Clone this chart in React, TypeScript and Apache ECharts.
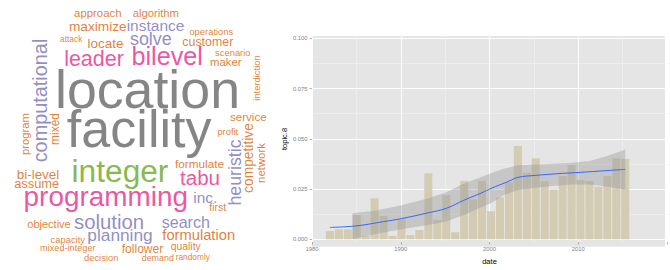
import React, { useEffect, useRef } from 'react';
import * as echarts from 'echarts';

// ---------- Histogram data (topic.8 by year) ----------
const years = [1982, 1983, 1984, 1985, 1986, 1987, 1988, 1989, 1990, 1991, 1992, 1993, 1994, 1995, 1996, 1997, 1998, 1999, 2000, 2001, 2002, 2003, 2004, 2005, 2006, 2007, 2008, 2009, 2010, 2011, 2012, 2013, 2014, 2015];
const topic8 = [0.0041, 0.0050, 0.0050, 0.0121, 0.0017, 0.0204, 0.0116, 0.0017, 0.0099, 0.0021, 0.0046, 0.0328, 0.0096, 0.0220, 0.0035, 0.0291, 0.0199, 0.0291, 0.0140, 0.0208, 0.0283, 0.0464, 0.0331, 0.0403, 0.0289, 0.0248, 0.0315, 0.0370, 0.0295, 0.0290, 0.0261, 0.0315, 0.0403, 0.0400];

// loess fit
const smoothYears = [1982, 1985, 1988, 1990, 1993, 1995, 1997, 1999, 2000, 2002, 2003, 2005, 2008, 2010, 2012, 2015];
const smoothFit = [0.0059, 0.0067, 0.0088, 0.0103, 0.0132, 0.0154, 0.0195, 0.0232, 0.0253, 0.0289, 0.0308, 0.0318, 0.0328, 0.0333, 0.0339, 0.0348];

// confidence band (visible part)
const bandYears = [1984.5, 1987, 1990, 1993, 1995, 1997, 1999, 2000, 2001.5, 2003, 2006, 2009, 2011, 2013, 2015];
const bandLower = [0.0001, 0.0025, 0.0050, 0.0071, 0.0088, 0.0121, 0.0162, 0.0179, 0.0222, 0.0245, 0.0261, 0.0273, 0.0273, 0.0261, 0.0248];
const bandUpper = [0.0129, 0.0142, 0.0170, 0.0204, 0.0234, 0.0278, 0.0311, 0.0328, 0.0352, 0.0369, 0.0374, 0.0381, 0.0389, 0.0414, 0.0447];

const yTicks = [0, 0.025, 0.05, 0.075, 0.1];
const xTicks = [1980, 1990, 2000, 2010];

// ---------- Word cloud data ----------
const words = ['location', 'facility', 'integer', 'programming', 'bilevel', 'leader', 'tabu', 'solution', 'computational', 'heuristic', 'solve', 'planning', 'search', 'instance', 'inc.', 'formulation', 'competitive', 'maximize', 'bi-level', 'locate', 'assume', 'customer', 'follower', 'mixed', 'formulate', 'service', 'maker', 'network', 'approach', 'algorithm', 'program', 'objective', 'quality', 'first', 'operations', 'scenario', 'interdiction', 'profit', 'capacity', 'decision', 'mixed-integer', 'demand', 'attack', 'randomly'];
const wordWeight = [100, 97, 59, 52, 47, 40, 38.4, 37.8, 37, 33, 33.3, 32.2, 30, 28.9, 28.7, 27.4, 25.7, 25.5, 25.1, 25, 24, 23.1, 22.5, 22.2, 22, 21.6, 21.2, 21.2, 21.2, 21, 21, 20.5, 19.4, 19.4, 17.5, 17.5, 17.5, 17.5, 17.5, 17.5, 17.1, 16.6, 15.6, 15.5];
// layout of the cloud (layout units)
const cloudX = [147.5, 139.2, 120, 105.8, 167.2, 94, 200, 109, 40, 235, 150.8, 120, 185.8, 155.5, 205.3, 198.7, 248, 97.8, 38, 105.5, 36.7, 207.8, 142.5, 55, 199.5, 248.3, 225.8, 261, 97.8, 155.8, 24.5, 49, 185.7, 217.7, 211.3, 232.8, 256, 227.8, 67.8, 101.2, 67.8, 157.8, 71.2, 192.8];
const cloudY = [89.4, 128.9, 171, 196.3, 56, 59.3, 177.9, 222.3, 100.5, 172.5, 39, 235, 221.7, 25.7, 197.7, 235, 158, 26.7, 174.3, 43.3, 183.3, 41.7, 249.3, 129, 164.3, 117.3, 61.7, 163, 13.3, 13.3, 134, 224.3, 246.7, 207.3, 31.7, 52.7, 78, 131.7, 239, 257.7, 248.3, 258.3, 39, 256.7];
const cloudRot = [0, 0, 0, 0, 0, 0, 0, 0, 90, 90, 0, 0, 0, 0, 0, 0, 90, 0, 0, 0, 0, 0, 0, 90, 0, 0, 0, 90, 0, 0, 90, 0, 0, 0, 0, 0, 90, 0, 0, 0, 0, 0, 0, 0];

const FONT = 'Liberation Sans, Arial, Helvetica, sans-serif';

function wordColor(w: number): string {
  if (w >= 90) return '#666666';
  if (w >= 55) return '#66A61E';
  if (w >= 38.2) return '#E7298A';
  if (w >= 28) return '#7570B3';
  return '#D95F02';
}

export default function App() {
  const ref = useRef<HTMLDivElement>(null);
  useEffect(() => {
    if (!ref.current) return;
    const chart = echarts.init(ref.current, null, { renderer: 'svg' });

    const panel = { left: 312, top: 36, width: 353, height: 210.7 };
    const xSpanWidth = (2020 - 1980) * (panel.width / 37.15);

    const option: any = {
      animation: false,
      textStyle: { fontFamily: FONT },
      grid: [
        { ...panel, show: true, backgroundColor: '#E5E5E5', borderWidth: 0, z: 0 },
        { left: panel.left, top: panel.top, width: xSpanWidth, height: panel.height },
        { left: panel.left, top: 38.3, width: xSpanWidth, height: 201 },
        { left: 0, top: 0, width: 280, height: 270 },
      ],
      xAxis: [
        { gridIndex: 0, type: 'value', min: 0, max: 1, show: false },
        {
          gridIndex: 1, type: 'value', min: 1980, max: 2020, interval: 10,
          name: 'date', nameLocation: 'middle', nameGap: 15,
          nameTextStyle: { fontSize: 7.5, color: '#000', fontFamily: FONT },
          axisLine: { show: false },
          axisTick: { show: true, length: 2.5, lineStyle: { color: '#7F7F7F', width: 0.6 } },
          axisLabel: {
            show: true, fontSize: 5.8, color: '#7F7F7F', margin: 4, fontFamily: FONT,
            formatter: (v: number) => (xTicks.includes(v) ? String(v) : ''),
          },
          splitLine: { show: true, lineStyle: { color: '#FFFFFF', width: 1 } },
          minorTick: { show: false, splitNumber: 2 },
          minorSplitLine: { show: true, lineStyle: { color: '#F2F2F2', width: 0.6 } },
        },
        { gridIndex: 2, type: 'value', min: 1980, max: 2020, show: false },
        { gridIndex: 3, type: 'value', min: 0, max: 280, show: false },
      ],
      yAxis: [
        { gridIndex: 0, type: 'value', min: 0, max: 1, show: false },
        {
          gridIndex: 1, type: 'value', min: 0, max: 1, show: true,
          name: 'topic.8', nameLocation: 'middle', nameGap: 24, nameRotate: 90,
          nameTextStyle: { fontSize: 7.5, color: '#000', fontFamily: FONT },
          axisLine: { show: false }, axisTick: { show: false }, axisLabel: { show: false },
          splitLine: { show: false },
        },
        {
          gridIndex: 2, type: 'value', min: 0, max: 0.1, interval: 0.025,
          axisLine: { show: false },
          axisTick: { show: true, length: 2.5, lineStyle: { color: '#7F7F7F', width: 0.6 } },
          axisLabel: {
            show: true, fontSize: 5.8, color: '#7F7F7F', margin: 4.5, fontFamily: FONT,
            formatter: (v: number) => {
              const t = yTicks.find((k) => Math.abs(k - v) < 1e-9);
              return t === undefined ? '' : t.toFixed(3);
            },
          },
          splitLine: { show: true, lineStyle: { color: '#FFFFFF', width: 1 } },
          minorTick: { show: false, splitNumber: 2 },
          minorSplitLine: { show: true, lineStyle: { color: '#F2F2F2', width: 0.6 } },
        },
        { gridIndex: 3, type: 'value', min: 0, max: 270, inverse: true, show: false },
      ],
      series: [
        {
          type: 'custom',
          xAxisIndex: 2, yAxisIndex: 2,
          z: 2,
          silent: true,
          data: years.map((y, i) => [y, topic8[i]]),
          encode: { x: 0, y: 1 },
          renderItem: (params: any, api: any) => {
            const x = api.value(0);
            const v = api.value(1);
            const p0 = api.coord([x - 0.45, v]);
            const p1 = api.coord([x + 0.45, 0]);
            return {
              type: 'rect',
              shape: { x: p0[0], y: p0[1], width: p1[0] - p0[0], height: p1[1] - p0[1] },
              style: { fill: 'rgb(211,204,178)' },
            };
          },
        },
        {
          type: 'custom',
          xAxisIndex: 2, yAxisIndex: 2,
          z: 3,
          silent: true,
          data: [[bandYears[0], bandLower[0]]],
          encode: { x: 0, y: 1 },
          renderItem: (params: any, api: any) => {
            const upper = bandYears.map((y, i) => api.coord([y, bandUpper[i]]));
            const lower = bandYears.map((y, i) => api.coord([y, bandLower[i]])).reverse();
            return {
              type: 'polygon',
              shape: { points: upper.concat(lower) },
              style: { fill: 'rgba(153,153,153,0.4)' },
            };
          },
        },
        {
          type: 'line',
          xAxisIndex: 2, yAxisIndex: 2,
          z: 4, silent: true,
          smooth: 0.4,
          symbol: 'none',
          lineStyle: { width: 1, color: '#3366FF' },
          data: smoothYears.map((y, i) => [y, smoothFit[i]]),
        },
        {
          type: 'scatter',
          xAxisIndex: 3, yAxisIndex: 3,
          z: 5, silent: true,
          symbolSize: 1,
          itemStyle: { color: 'rgba(0,0,0,0)' },
          label: { show: true, position: 'inside', formatter: '{b}', fontFamily: FONT },
          data: words.map((w, i) => ({
            name: w,
            value: [cloudX[i], cloudY[i]],
            label: {
              fontSize: wordWeight[i] * 0.537,
              rotate: cloudRot[i],
              color: wordColor(wordWeight[i]),
            },
          })),
        },
      ],
    };
    chart.setOption(option);
    return () => chart.dispose();
  }, []);
  return <div ref={ref} style={{ position: 'fixed', left: 0, top: 0, width: 670, height: 270, background: '#fff' }} />;
}
